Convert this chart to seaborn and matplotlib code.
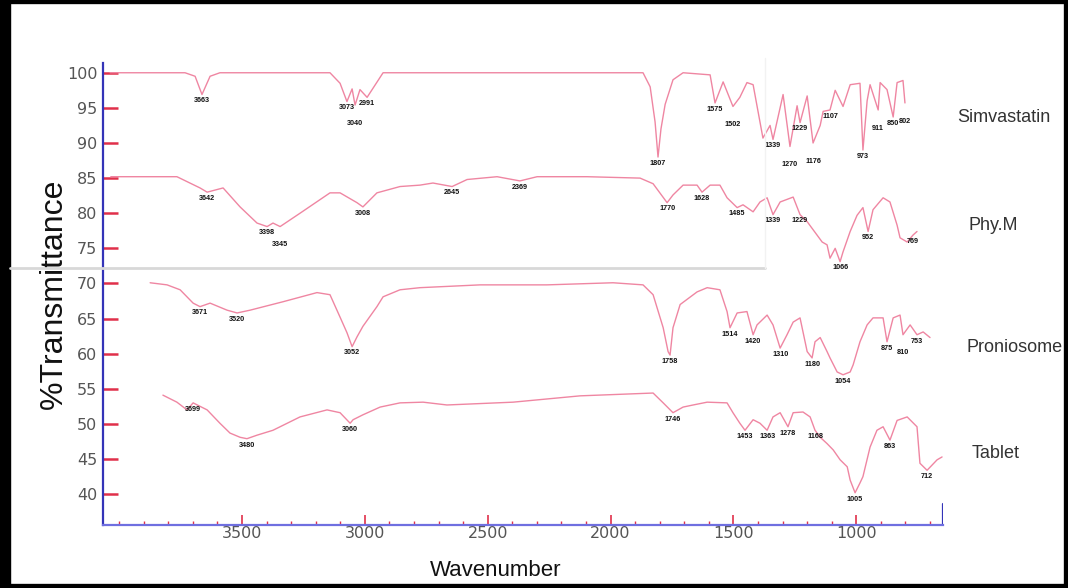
import numpy as np
import pandas as pd
import matplotlib
matplotlib.use("Agg")
import matplotlib.pyplot as plt
from matplotlib.lines import Line2D
from matplotlib.patches import Rectangle
from matplotlib.ticker import MultipleLocator
import seaborn as sns

# ---------------- data (wavenumber, % transmittance) ----------------
sim_wn = [4037, 3732, 3691, 3663, 3630, 3590, 3142, 3101, 3073, 3052, 3040, 3020, 2991, 2926,
          1868, 1839, 1819, 1807, 1795, 1778, 1746, 1705, 1595, 1575, 1542, 1502, 1474, 1445,
          1420, 1380, 1351, 1339, 1298, 1270, 1241, 1229, 1200, 1176, 1147, 1135, 1107, 1086,
          1054, 1025, 985, 973, 956, 944, 911, 903, 875, 850, 834, 810, 802]
sim_t = [100, 100, 99.5, 96.9, 99.5, 100, 100, 98.5, 95.9, 97.7, 95.4, 97.6, 96.5, 100,
         100, 98, 93, 88.0, 92, 95.5, 99, 100, 99.7, 95.7, 98.7, 95.2, 96.5, 98.6,
         98.3, 90.7, 92.5, 90.5, 96.9, 89.5, 95.3, 92.9, 96.7, 90.0, 92.5, 94.5, 94.7, 97.5,
         95.2, 98.3, 98.5, 89.0, 96.0, 98.3, 94.7, 98.6, 97.6, 93.7, 98.6, 98.9, 95.7]

phy_wn = [4034, 3874, 3765, 3671, 3642, 3577, 3508, 3439, 3398, 3374, 3345, 3264, 3142, 3101,
          3032, 3008, 2951, 2857, 2776, 2723, 2645, 2584, 2462, 2369, 2299, 2096, 1880, 1827,
          1770, 1746, 1705, 1648, 1628, 1595, 1555, 1526, 1485, 1461, 1420, 1392, 1363, 1339,
          1310, 1257, 1229, 1200, 1160, 1139, 1119, 1107, 1086, 1066, 1054, 1025, 997, 973,
          952, 932, 891, 863, 834, 822, 793, 769, 753]
phy_t = [85.2, 85.2, 85.2, 83.6, 83.0, 83.6, 80.9, 78.6, 78.1, 78.6, 78.1, 80.0, 82.9, 82.9,
         81.5, 80.9, 82.9, 83.8, 84.0, 84.3, 83.8, 84.8, 85.2, 84.6, 85.2, 85.2, 85.0, 84.2,
         81.5, 82.6, 84.0, 84.0, 83.0, 84.0, 84.0, 82.2, 80.8, 81.2, 80.2, 81.6, 82.2, 79.8,
         81.6, 82.3, 79.8, 78.8, 76.9, 75.9, 75.5, 73.6, 75.0, 73.1, 74.5, 77.4, 79.7, 80.8,
         77.4, 80.5, 82.2, 81.6, 78.3, 76.5, 75.9, 76.9, 77.4]

pro_wn = [3874, 3805, 3752, 3699, 3671, 3630, 3561, 3520, 3467, 3333, 3195, 3142, 3101, 3073,
          3052, 3032, 3008, 2951, 2926, 2857, 2776, 2531, 2259, 1990, 1868, 1827, 1786, 1766,
          1758, 1746, 1717, 1648, 1607, 1555, 1526, 1514, 1485, 1445, 1420, 1404, 1363, 1339,
          1310, 1282, 1257, 1229, 1200, 1180, 1168, 1147, 1119, 1107, 1078, 1054, 1025, 1013,
          985, 956, 932, 891, 875, 850, 822, 810, 781, 753, 728, 700]
pro_t = [70.1, 69.8, 69.1, 67.2, 66.7, 67.2, 66.2, 65.8, 66.2, 67.4, 68.7, 68.4, 65.2, 63.0,
         61.0, 62.4, 63.9, 66.7, 68.1, 69.1, 69.4, 69.8, 69.8, 70.1, 69.8, 68.4, 63.7, 60.3,
         59.8, 63.7, 67.0, 68.8, 69.4, 69.1, 66.0, 63.7, 65.8, 66.0, 62.7, 64.1, 65.5, 64.1,
         60.8, 62.7, 64.5, 65.1, 60.3, 59.4, 61.7, 62.3, 60.3, 59.4, 57.4, 57.0, 57.4, 58.4,
         61.7, 64.1, 65.1, 65.1, 61.7, 65.1, 65.5, 62.7, 64.1, 62.7, 63.1, 62.3]

tab_wn = [3822, 3765, 3724, 3699, 3642, 3590, 3549, 3508, 3480, 3439, 3374, 3264, 3154, 3101,
          3060, 3048, 3008, 2938, 2857, 2763, 2666, 2397, 2124, 1827, 1786, 1746, 1705, 1664,
          1607, 1526, 1502, 1474, 1453, 1420, 1392, 1363, 1339, 1310, 1278, 1257, 1217, 1188,
          1168, 1147, 1119, 1094, 1066, 1037, 1025, 1005, 985, 973, 944, 916, 891, 863, 834,
          793, 753, 741, 712, 671, 651]
tab_t = [54.1, 53.1, 52.0, 53.0, 52.0, 50.1, 48.7, 48.1, 47.9, 48.4, 49.1, 51.0, 52.0, 51.6,
         50.1, 50.6, 51.3, 52.4, 53.0, 53.1, 52.7, 53.1, 54.0, 54.4, 53.0, 51.6, 52.4, 52.7,
         53.1, 53.0, 51.6, 50.1, 49.1, 50.6, 50.1, 49.1, 51.0, 51.6, 49.6, 51.6, 51.7, 51.0,
         49.1, 48.1, 47.2, 46.3, 44.9, 43.9, 42.0, 40.2, 41.6, 42.5, 46.7, 49.1, 49.6, 47.7,
         50.5, 51.0, 49.6, 44.4, 43.4, 44.9, 45.3]

# peak positions that carry a small wavenumber label
sim_peaks = [3663, 3073, 3040, 2991, 1807, 1575, 1502, 1339, 1270, 1229, 1176, 1107, 973, 911, 850, 802]
phy_peaks = [3642, 3398, 3345, 3008, 2645, 2369, 1770, 1628, 1485, 1339, 1229, 1066, 952, 769]
pro_peaks = [3671, 3520, 3052, 1758, 1514, 1420, 1310, 1180, 1054, 875, 810, 753]
tab_peaks = [3699, 3480, 3060, 1746, 1453, 1363, 1278, 1168, 1005, 863, 712]

names = ["Simvastatin", "Phy.M", "Proniosome", "Tablet"]
y_ticks = [100, 95, 90, 85, 80, 75, 70, 65, 60, 55, 50, 45, 40]
x_ticks = [3500, 3000, 2500, 2000, 1500, 1000]

series = [(sim_wn, sim_t, sim_peaks), (phy_wn, phy_t, phy_peaks),
          (pro_wn, pro_t, pro_peaks), (tab_wn, tab_t, tab_peaks)]

frames = []
for name, (w, t, _) in zip(names, series):
    frames.append(pd.DataFrame({"wn": w, "T": t, "sample": name}))
df = pd.concat(frames, ignore_index=True)

# ---------------- style ----------------
sns.set_style("white")
plt.rcParams["font.family"] = ["Liberation Sans", "DejaVu Sans"]

PINK = "#ef86a2"
BLUE = "#3434b8"
LBLUE = "#6f6fe0"
RED = "#e0304a"

fig = plt.figure(figsize=(10.68, 5.88), dpi=100)
ax = fig.add_axes([0.0964, 0.107, 0.7866, 0.786])

sns.lineplot(data=df, x="wn", y="T", hue="sample", units="sample", estimator=None,
             sort=False, palette=[PINK] * 4, linewidth=1.0, legend=False, ax=ax)

ax.set_xlim(4066, 647)
ax.set_ylim(35.6, 101.4)

# peak labels (staggered when two peaks are close together)
for (w, t, peaks) in series:
    wa = np.array(w)[::-1]
    ta = np.array(t)[::-1]
    prev = None
    stagger = False
    for p in peaks:
        yv = np.interp(p, wa, ta)
        stagger = (prev is not None and abs(prev - p) < 75 and not stagger)
        dy = 1.7 if stagger else 0.0
        ax.text(p, yv - 0.4 - dy, f"{p}", fontsize=5.2, fontweight="bold", color="#111111",
                ha="center", va="top")
        prev = p

# axes styling
for s in ["top", "right"]:
    ax.spines[s].set_visible(False)
ax.spines["left"].set_color(BLUE)
ax.spines["left"].set_linewidth(1.6)
ax.spines["bottom"].set_color(LBLUE)
ax.spines["bottom"].set_linewidth(1.6)
ax.axvline(ax.get_xlim()[1], ymin=0, ymax=0.045, color=BLUE, lw=1.6)

ax.set_xticks(x_ticks)
ax.set_xticklabels([str(v) for v in x_ticks], fontfamily="DejaVu Sans")
ax.xaxis.set_minor_locator(MultipleLocator(100))
ax.set_yticks(y_ticks)
ax.set_yticklabels([str(v) for v in y_ticks], fontfamily="DejaVu Sans")
ax.tick_params(axis="x", which="major", direction="in", length=7, width=1.2, color=RED,
               labelsize=11.5, labelcolor="#555555", pad=1, bottom=True)
ax.tick_params(axis="x", which="minor", direction="in", length=3, width=1.0, color=RED, bottom=True)
ax.tick_params(axis="y", which="major", direction="in", length=11, width=1.8, color=RED,
               labelsize=11.5, labelcolor="#555555", pad=4, left=True)

ax.set_xlabel("Wavenumber", fontsize=16, color="#111111")
ax.xaxis.set_label_coords(0.467, -0.075)
ax.set_ylabel("%Transmittance", fontsize=23, color="#111111")
ax.yaxis.set_label_coords(-0.040, 0.5)
ax.grid(False)

# sample names on the right
label_pos = [(957, 118), (968, 225), (967, 347), (972, 453)]
for name, (px, py) in zip(names, label_pos):
    fig.text(px / 1068, 1 - py / 588, name, fontsize=13, color="#333333", ha="left", va="center")

# scan artefact line and frame
fig.add_artist(Line2D([10 / 1068, 765 / 1068], [1 - 268 / 588, 1 - 268 / 588],
                      color="#d8d8d8", lw=2.0, transform=fig.transFigure))
fig.add_artist(Line2D([765 / 1068, 765 / 1068], [1 - 268 / 588, 1 - 58 / 588],
                      color="#f2f2f2", lw=1.0, transform=fig.transFigure))
fig.add_artist(Rectangle((0.0, 0.0), 1.0, 1.0, transform=fig.transFigure, fill=False,
                         edgecolor="black", lw=6))
fig.add_artist(Rectangle((0.0, 0.0), 0.009, 1.0, transform=fig.transFigure, color="black"))

fig.savefig("out.png", dpi=100, facecolor="white")
